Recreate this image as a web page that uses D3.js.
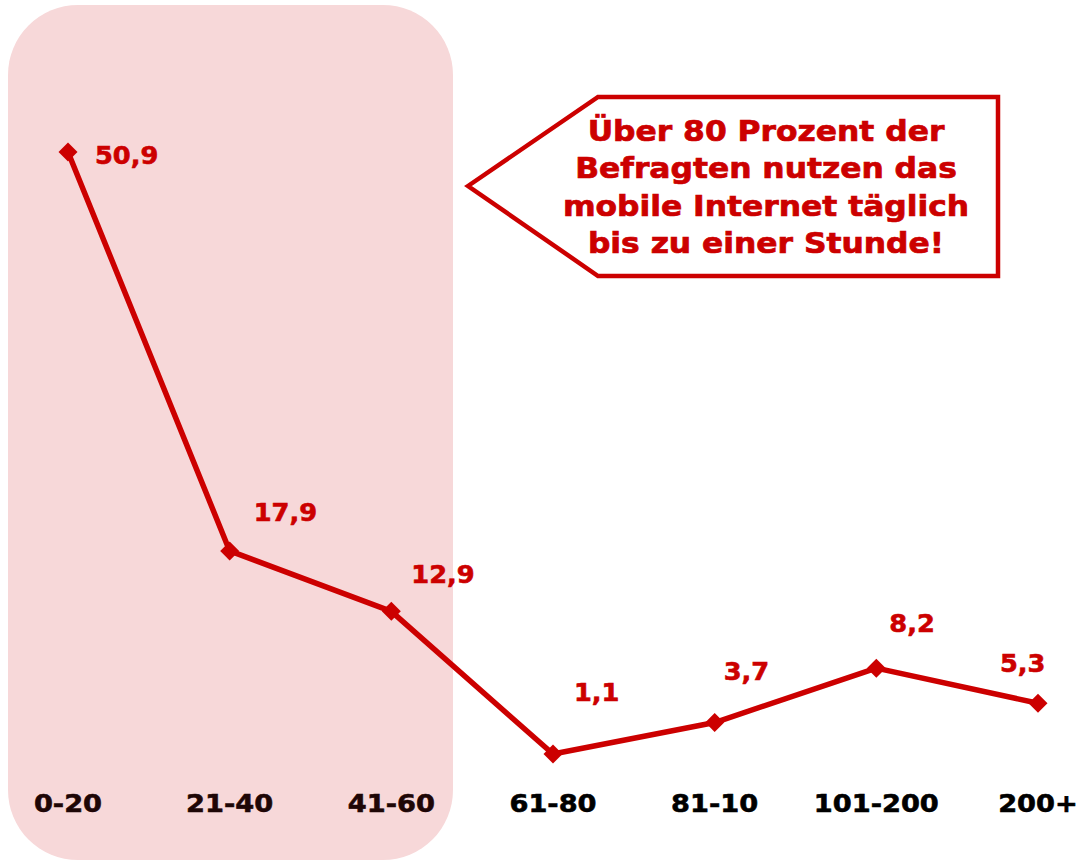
<!DOCTYPE html>
<html>
<head>
<meta charset="utf-8">
<script src="https://cdn.jsdelivr.net/npm/d3@7"></script>
<style>
  body { margin: 0; background: #fff; }
  text { font-family: "DejaVu Sans", Verdana, sans-serif; font-weight: bold; }
</style>
</head>
<body>
<script>
var categories = ["0-20", "21-40", "41-60", "61-80", "81-10", "101-200", "200+"];
var values = [50.9, 17.9, 12.9, 1.1, 3.7, 8.2, 5.3];
var valueLabels = ["50,9", "17,9", "12,9", "1,1", "3,7", "8,2", "5,3"];
var calloutLines = ["Über 80 Prozent der", "Befragten nutzen das", "mobile Internet täglich", "bis zu einer Stunde!"];

// label nudges, as placed in the original
var labelDx = [27, 24, 20, 21, 9, 13, -38];
var labelDy = [3, -39, -37, -62, -51, -45, -40];

var width = 1078,
    height = 863;
var red = "#cc0000";

var svg = d3.select("body").append("svg")
  .attr("width", width)
  .attr("height", height);

var x = d3.scalePoint()
  .domain(categories)
  .range([68, 1038]);

var y = d3.scaleLinear()
  .domain([0, 50.9])
  .range([767.3, 152]);

// highlight box behind first three categories
svg.append("rect")
  .attr("x", 8)
  .attr("y", 5)
  .attr("width", 445)
  .attr("height", 855)
  .attr("rx", 70)
  .attr("ry", 70)
  .style("fill", "#f7d8d9");

// category labels
svg.selectAll(".cat")
  .data(categories)
  .enter().append("text")
  .attr("class", "cat")
  .attr("x", function(d) { return x(d); })
  .attr("y", 812)
  .attr("text-anchor", "middle")
  .attr("transform", function(d) { return "translate(" + x(d) + ",0) scale(1.09,1) translate(" + (-x(d)) + ",0)"; })
  .style("font-size", "25px")
  .style("stroke-width", 0.6)
  .style("fill", function(d, i) { return i < 3 ? "#1e0606" : "#000"; })
  .style("stroke", function(d, i) { return i < 3 ? "#1e0606" : "#000"; })
  .text(function(d) { return d; });

var line = d3.line()
  .x(function(d, i) { return x(categories[i]); })
  .y(function(d) { return y(d); });

svg.append("path")
  .datum(values)
  .attr("d", line)
  .style("fill", "none")
  .style("stroke", red)
  .style("stroke-width", 5.5)
  .style("stroke-linejoin", "round");

svg.selectAll(".marker")
  .data(values)
  .enter().append("path")
  .attr("class", "marker")
  .attr("d", d3.symbol().type(d3.symbolDiamond2).size(230))
  .attr("transform", function(d, i) { return "translate(" + x(categories[i]) + "," + y(d) + ")"; })
  .style("fill", red);

svg.selectAll(".val")
  .data(values)
  .enter().append("text")
  .attr("class", "val")
  .attr("x", function(d, i) { return x(categories[i]) + labelDx[i]; })
  .attr("y", function(d, i) { return y(d) + labelDy[i]; })
  .attr("dy", "0.36em")
  .attr("transform", function(d, i) {
    var lx = x(categories[i]) + labelDx[i];
    return "translate(" + lx + ",0) scale(1.07,1) translate(" + (-lx) + ",0)";
  })
  .style("font-size", "24px")
  .style("fill", red)
  .style("stroke", red)
  .style("stroke-width", 0.6)
  .text(function(d, i) { return valueLabels[i]; });

// callout
var callout = svg.append("g");
callout.append("path")
  .attr("d", "M468,186 L598,97 L998,97 L998,276 L598,276 Z")
  .style("fill", "#fff")
  .style("stroke", red)
  .style("stroke-width", 4.5)
  .style("stroke-linejoin", "miter");

callout.selectAll("text")
  .data(calloutLines)
  .enter().append("text")
  .attr("x", 766)
  .attr("y", function(d, i) { return 141 + i * 37.5; })
  .attr("text-anchor", "middle")
  .attr("transform", "translate(766,0) scale(1.1,1) translate(-766,0)")
  .style("font-size", "28.5px")
  .style("fill", red)
  .style("stroke", red)
  .style("stroke-width", 0.7)
  .text(function(d) { return d; });
</script>
</body>
</html>
